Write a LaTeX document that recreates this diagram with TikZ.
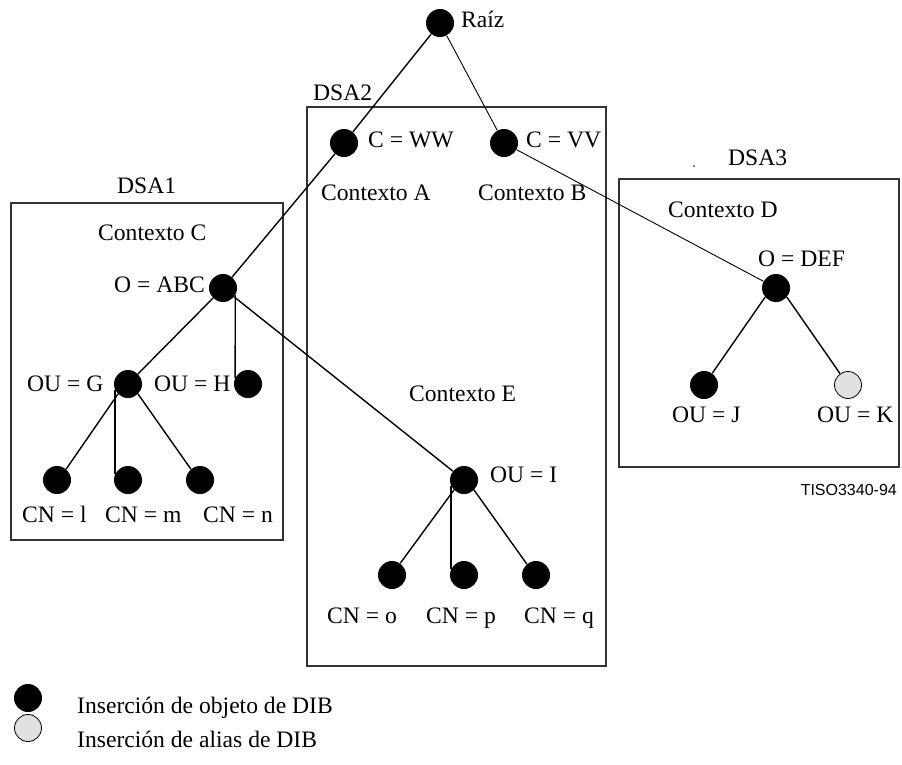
\documentclass[tikz,border=0pt]{standalone}
\usepackage{fontspec}
\setmainfont{Liberation Serif}
\setsansfont{Liberation Sans}
\begin{document}
\begin{tikzpicture}[x=1pt,y=-1pt,
  entry/.style={circle,fill=black,minimum size=28pt,inner sep=0pt},
  aliasentry/.style={circle,draw=black,line width=0.8pt,fill=black!12,minimum size=27pt,inner sep=0pt},
  lbl/.style={inner sep=0pt,font=\fontsize{23.6}{28}\selectfont},
  dsabox/.style={draw=black!80,line width=1.3pt},
  link/.style={line width=1.4pt},
  thinlink/.style={line width=0.9pt}]
\useasboundingbox (0,0) rectangle (902,765);

% DSA boxes
\draw[dsabox] (11,203) rectangle (283,540);
\draw[dsabox] (307,107) rectangle (606,666);
\draw[dsabox] (619,179) rectangle (899,467);
\fill (694,166) circle (0.9);

% DIT entries
\node[entry] (root) at (440,23) {};
\node[entry] (ww) at (344,143) {};
\node[entry] (vv) at (504,143) {};
\node[entry] (abc) at (223,288) {};
\node[entry] (g) at (128,384) {};
\node[entry] (h) at (248,384) {};
\node[entry] (l) at (57,480) {};
\node[entry] (m) at (128,480) {};
\node[entry] (n) at (200,480) {};
\node[entry] (i) at (464,480) {};
\node[entry] (o) at (392,575) {};
\node[entry] (p) at (464,575) {};
\node[entry] (q) at (536,575) {};
\node[entry] (def) at (776,288) {};
\node[entry] (j) at (704,385) {};
\node[aliasentry] (k) at (848,385) {};

% connectors
\draw[link] (root) -- (ww);
\draw[link] (ww) -- (abc);
\draw[thinlink] (root) -- (vv);
\draw[thinlink] (vv) -- (def);
\draw[link] (abc) -- (g);
\draw[link] (abc.-30) -- (h.155);
\draw[link] (abc) -- (i);
\draw[link] (g.225) -- (l.50);
\draw[link] (g.205) -- (m.155);
\draw[link] (g.-45) -- (n.130);
\draw[link] (i.225) -- (o.55);
\draw[link] (i.205) -- (p.155);
\draw[link] (i.-45) -- (q.130);
\draw[link] (def.220) -- (j.55);
\draw[link] (def.-40) -- (k.125);

% labels
\node[lbl,anchor=base west] (trootl) at (461,28) {Raíz};
\node[lbl,anchor=base west] (tdsa2) at (313,101) {DSA2};
\node[lbl,anchor=base west] (twwl) at (368,147) {C = WW};
\node[lbl,anchor=base west] (tvvl) at (526,147) {C = VV};
\node[lbl,anchor=base west] (tctxa) at (321,200) {Contexto A};
\node[lbl,anchor=base west] (tctxb) at (478,200) {Contexto B};
\node[lbl,anchor=base west] (tdsa1) at (117,193) {DSA1};
\node[lbl,anchor=base west] (tctxc) at (98,240) {Contexto C};
\node[lbl,anchor=base east] (tabcl) at (205,292) {O = ABC};
\node[lbl,anchor=base west] (tgl) at (27,391) {OU = G};
\node[lbl,anchor=base west] (thl) at (154,391) {OU = H};
\node[lbl,anchor=base west] (tll) at (22,522) {CN = l};
\node[lbl,anchor=base west] (tml) at (105,522) {CN = m};
\node[lbl,anchor=base west] (tnl) at (203,522) {CN = n};
\node[lbl,anchor=base west] (tctxe) at (409,401) {Contexto E};
\node[lbl,anchor=base west] (til) at (490,482) {OU = I};
\node[lbl,anchor=base west] (tol) at (327,623) {CN = o};
\node[lbl,anchor=base west] (tpl) at (426,623) {CN = p};
\node[lbl,anchor=base west] (tql) at (524,623) {CN = q};
\node[lbl,anchor=base west] (tdsa3) at (728,165) {DSA3};
\node[lbl,anchor=base west] (tctxd) at (668,217) {Contexto D};
\node[lbl,anchor=base west] (tdefl) at (758,266) {O = DEF};
\node[lbl,anchor=base west] (tjl) at (672,422) {OU = J};
\node[lbl,anchor=base west] (tkl) at (817,422) {OU = K};
\node[anchor=base east,inner sep=0pt,font=\sffamily\fontsize{16}{19}\selectfont] (tref) at (897,495) {TISO3340-94};

% key
\node[entry] (keyobj) at (28,698) {};
\node[aliasentry] (keyalias) at (28,728) {};
\node[lbl,anchor=base west] (tkeyobj) at (77,713) {Inserción de objeto de DIB};
\node[lbl,anchor=base west] (tkeyalias) at (77,747) {Inserción de alias de DIB};
\end{tikzpicture}
\end{document}
